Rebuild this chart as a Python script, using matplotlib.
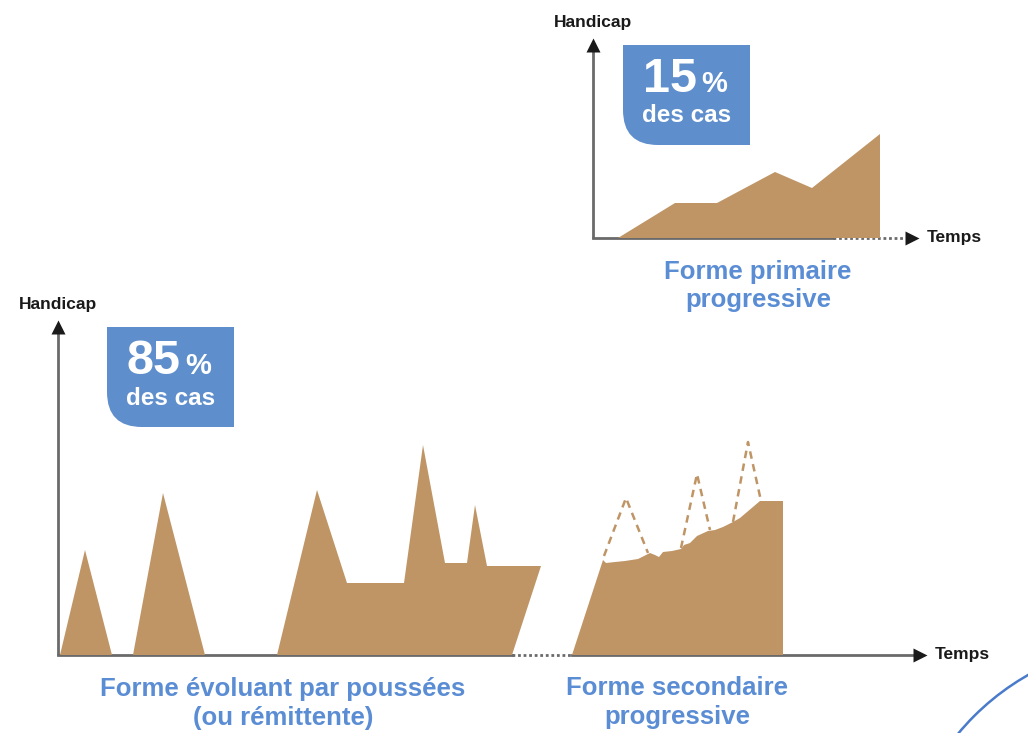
import matplotlib
matplotlib.use('Agg')
import matplotlib.pyplot as plt
from matplotlib.path import Path
from matplotlib.patches import PathPatch, Circle

plt.rcParams['font.family'] = ['Liberation Sans', 'DejaVu Sans']

# couleurs
tan = '#BF9566'
box_blue = '#5E8ECB'
label_blue = '#5B8DD4'
axis_grey = '#6a6a6a'

# --- forme évoluant par poussées (unités: temps, handicap) ---
relapse1_t = [0.2, 2.7, 5.4]
relapse1_h = [0, 10.5, 0]
relapse2_t = [7.5, 10.5, 14.7]
relapse2_h = [0, 16.2, 0]
rr_t = [21.9, 25.9, 28.9, 34.6, 36.5, 38.7, 40.9, 41.7, 42.9, 48.3, 45.4]
rr_h = [0, 16.5, 7.2, 7.2, 21.0, 9.2, 9.2, 15.0, 8.9, 8.9, 0]

# --- forme secondaire progressive ---
sp_t = [51.4, 54.5, 54.8, 55.7, 56.7, 58.0, 58.8, 59.2, 59.7, 60.1, 60.5, 61.4,
        62.3, 62.6, 63.2, 63.9, 65.0, 65.7, 66.5, 67.5, 68.2, 70.2, 72.5, 72.5]
sp_h = [0, 9.5, 9.2, 9.3, 9.4, 9.6, 10.0, 10.2, 10.0, 9.8, 10.3, 10.4,
        10.6, 11.0, 11.2, 11.9, 12.4, 12.5, 12.8, 13.3, 13.7, 15.4, 15.4, 0]
peaks_t = [[54.6, 56.8, 59.0], [62.3, 63.9, 65.2], [67.5, 69.0, 70.3]]
peaks_h = [[9.9, 15.7, 10.2], [10.7, 18.1, 12.5], [13.3, 21.3, 15.4]]

# --- forme primaire progressive ---
pp_t = [2.5, 8.2, 12.4, 18.2, 21.9, 28.7, 28.7]
pp_h = [0, 3.5, 3.5, 6.6, 5.0, 10.4, 0]

fig = plt.figure(figsize=(10.28, 7.33), dpi=100)
ax_bot = fig.add_axes([0, 0, 1, 1])
ax_top = fig.add_axes([0, 0, 1, 1])
ax_top.patch.set_alpha(0)
ax_bot.set_xlim(-5.8, 97.0)
ax_bot.set_ylim(-7.8, 65.5)
ax_top.set_xlim(-59.3, 43.5)
ax_top.set_ylim(-49.5, 23.8)
for ax in (ax_bot, ax_top):
    ax.axis('off')


def draw_axes(ax, y_tip, x_solid, x_dots, x_tip, gap=None):
    # axe vertical
    ax.plot([0, 0], [0, y_tip - 0.6], color=axis_grey, lw=2, solid_capstyle='butt', zorder=1)
    ax.plot([0], [y_tip - 0.5], marker='^', ms=10, color='#1a1a1a', mec='none')
    # axe horizontal
    if gap is None:
        ax.plot([0, x_solid], [0, 0], color=axis_grey, lw=2, zorder=1)
        ax.plot([x_solid, x_dots], [0, 0], color=axis_grey, lw=2, ls=(0, (1, 1)), zorder=1)
    else:
        ax.plot([0, gap[0]], [0, 0], color=axis_grey, lw=2, zorder=1)
        ax.plot([gap[0], gap[1]], [0, 0], color=axis_grey, lw=2, ls=(0, (1, 1)), zorder=1)
        ax.plot([gap[1], x_tip - 0.6], [0, 0], color=axis_grey, lw=2, zorder=1)
    ax.plot([x_tip - 0.5], [0], marker='>', ms=10, color='#1a1a1a', mec='none')
    ax.text(0, y_tip + 1.0, 'Handicap', ha='center', va='bottom', fontsize=12.5,
            fontweight='bold', color='#1a1a1a')
    ax.text(x_tip + 1.0, 0, 'Temps', ha='left', va='center', fontsize=12.5,
            fontweight='bold', color='#1a1a1a')


def pct_box(ax, x0, y0, w, h, big, r=3.5):
    x1, y1 = x0 + w, y0 + h
    verts = [(x0, y1), (x1, y1), (x1, y0), (x0 + r, y0), (x0, y0), (x0, y0 + r), (x0, y1)]
    codes = [Path.MOVETO, Path.LINETO, Path.LINETO, Path.LINETO,
             Path.CURVE3, Path.CURVE3, Path.CLOSEPOLY]
    ax.add_patch(PathPatch(Path(verts, codes), fc=box_blue, ec='none'))
    ax.text(x0 + 4.7, y1 - 3.4, big, ha='center', va='center', fontsize=35,
            fontweight='bold', color='white')
    ax.text(x0 + 9.1, y1 - 3.9, '%', ha='center', va='center', fontsize=21,
            fontweight='bold', color='white')
    ax.text(x0 + 6.4, y1 - 7.1, 'des cas', ha='center', va='center', fontsize=17.5,
            fontweight='bold', color='white')


# graphique du bas
draw_axes(ax_bot, 33.3, None, None, 86.7, gap=(45.4, 51.4))
ax_bot.fill(relapse1_t, relapse1_h, color=tan, lw=0, zorder=2)
ax_bot.fill(relapse2_t, relapse2_h, color=tan, lw=0, zorder=2)
ax_bot.fill(rr_t, rr_h, color=tan, lw=0, zorder=2)
ax_bot.fill(sp_t, sp_h, color=tan, lw=0, zorder=2)
for pt, ph in zip(peaks_t, peaks_h):
    ax_bot.plot(pt, ph, color=tan, lw=1.8, ls=(0, (3, 2.2)), zorder=2)
pct_box(ax_bot, 4.9, 22.8, 12.7, 10.0, '85')
ax_bot.text(22.5, -4.85, 'Forme évoluant par poussées\n(ou rémittente)', ha='center',
            va='center', fontsize=18.5, fontweight='bold', color=label_blue, linespacing=1.25)
ax_bot.text(61.9, -4.75, 'Forme secondaire\nprogressive', ha='center',
            va='center', fontsize=18.5, fontweight='bold', color=label_blue, linespacing=1.25)
# arc décoratif en bas à droite
ax_bot.add_patch(Circle((109.5, -24.0), 25.3, fill=False, ec='#4A7BCB', lw=1.8))

# graphique du haut
draw_axes(ax_top, 19.8, 24.0, 31.2, 32.4)
ax_top.fill(pp_t, pp_h, color=tan, lw=0, zorder=2)
pct_box(ax_top, 3.0, 9.3, 12.7, 10.0, '15')
ax_top.text(16.5, -4.8, 'Forme primaire\nprogressive', ha='center',
            va='center', fontsize=18.5, fontweight='bold', color=label_blue, linespacing=1.25)

plt.savefig('out.png', dpi=100)
